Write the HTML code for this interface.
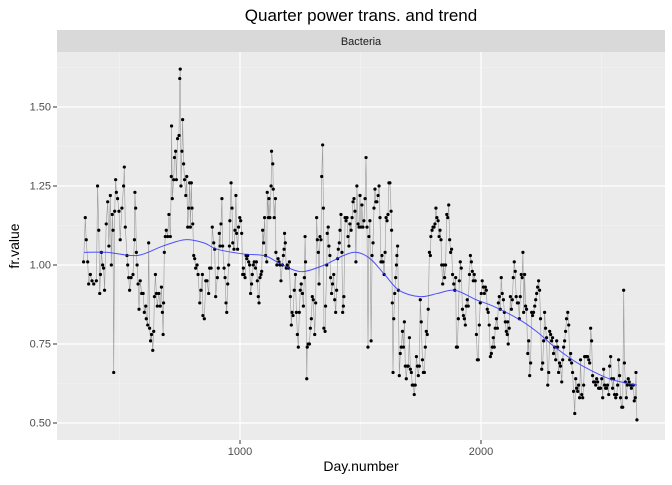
<!DOCTYPE html>
<html><head><meta charset="utf-8"><style>
body{margin:0;background:#fff;font-family:"Liberation Sans",sans-serif}
</style></head><body>
<svg id="chart" width="672" height="480" xmlns="http://www.w3.org/2000/svg" font-family="Liberation Sans, sans-serif">
<text x="361" y="21" font-size="17" text-anchor="middle" fill="#000">Quarter power trans. and trend</text>
<rect x="57" y="30" width="608" height="22" fill="#d9d9d9"/>
<text x="361" y="45" font-size="11" text-anchor="middle" fill="#1a1a1a">Bacteria</text>
<rect x="57" y="52" width="608" height="388" fill="#ebebeb"/>
<g id="grid"></g><g id="series"></g><g id="trend"></g><g id="axes"></g>
<text x="361" y="471" font-size="14" text-anchor="middle">Day.number</text>
<text transform="translate(19,246) rotate(-90)" font-size="14" text-anchor="middle">fr.value</text>
</svg>
<script>
const days = [351,358,362,368,372,379,386,393,404,409,414,418,421,425,430,434,438,445,451,456,462,466,470,473,476,480,484,487,492,498,503,510,517,520,524,531,534,538,542,548,556,562,564,567,570,573,577,581,586,592,598,603,609,611,617,621,625,629,633,638,642,645,649,653,657,663,669,674,678,681,683,686,690,694,700,705,711,715,716,719,725,728,733,736,741,747,750,752,755,759,762,766,770,775,779,783,787,791,794,798,801,804,808,812,816,822,826,833,838,844,846,852,858,863,870,874,880,885,891,895,899,
906,910,914,917,921,925,928,934,938,942,945,949,953,956,958,963,967,970,975,979,983,986,990,994,999,1003,1007,1011,1014,1017,1021,1025,1028,1032,1036,1040,1044,1048,1051,1055,1059,1064,1068,1072,1076,1079,1083,1087,1090,1094,1098,1102,1106,1111,1113,1118,1120,1124,1129,1131,1136,1138,1142,1147,1149,1153,1158,1162,1166,1170,1176,1180,1183,1185,1188,1192,1196,1201,1205,1209,1213,1216,1220,1225,1230,1234,1238,1242,1246,1250,1254,1259,1263,1267,1270,1272,1277,1279,1283,1288,1292,1296,1300,1304,1310,1314,1318,1321,1325,1328,1332,1336,1339,1343,1346,1348,1353,1355,1360,1362,1366,1369,1373,1376,1380,1384,1389,1393,1397,1401,1405,1408,1412,1415,1419,1423,1426,1429,1431,1436,1440,1444,1448,1452,1456,1461,1465,1469,1473,1477,1481,1485,1490,1494,1498,1502,1506,1510,1514,1519,1523,1527,1531,
1535,1539,1544,1548,1552,1556,1560,1564,1568,1573,1577,1581,1585,1589,1593,1598,1602,1606,1610,1614,1618,1622,1627,1629,1632,1635,1638,1642,1646,1649,1651,1654,1657,1661,1665,1669,1674,1678,1682,1686,1690,1694,1698,1703,1707,1711,1715,1719,1723,1727,1732,1736,1740,1744,1748,1752,1757,1761,1765,1769,1773,1777,1781,1786,1790,1792,1797,1801,1805,1809,1813,1817,1822,1826,1830,1834,1837,1841,1845,1849,1853,1858,1862,1866,1870,1874,1878,1882,1887,1891,1895,1898,1902,1906,1910,1914,1918,1923,1927,1931,1935,1939,1943,1947,1952,1956,1960,1964,1968,1972,1976,1981,1985,1989,1993,1997,2001,2005,2010,2014,2018,2022,2026,2030,2034,2039,2043,2047,2051,2055,2059,2064,2068,2072,2076,2080,2084,2088,2093,2097,2101,2105,2109,2111,
2113,2117,2122,2126,2130,2134,2138,2142,2146,2151,2155,2159,2163,2167,2171,2174,2177,2181,2185,2189,2194,2198,2202,2206,2210,2214,2218,2223,2227,2231,2235,2239,2243,2247,2252,2256,2260,2264,2268,2272,2277,2281,2285,2289,2293,2297,2301,2306,2310,2314,2318,2322,2326,2330,2335,2339,2343,2347,2351,2355,2360,2364,2368,2372,2376,2380,2384,2389,2393,2397,2401,2405,2409,2413,2418,2422,2426,2430,2434,2438,2442,2447,2451,2455,2459,2463,2467,2472,2476,2480,2484,2488,2492,2496,2501,2505,2509,2513,2517,2521,2525,2530,2534,2538,2542,2546,2550,2554,2559,2563,2567,2571,2575,2579,2584,2588,2592,2595,2599,2603,2607,2611,2615,2619,2624,2628,2632,2636,2640,2643,2647];
const values = [1.01,1.15,1.08,1.01,0.94,0.97,0.95,0.94,0.95,1.25,1.11,0.91,0.97,1.04,1.00,0.99,0.92,1.13,1.20,1.06,1.22,1.00,1.16,1.11,0.66,1.17,1.27,1.23,1.21,1.17,1.08,1.18,1.25,1.31,1.12,1.03,1.00,0.96,0.92,0.96,0.97,1.08,1.23,1.18,1.04,1.00,0.94,0.86,0.95,0.91,0.91,0.85,0.87,0.83,0.81,1.07,0.80,0.76,0.78,0.73,0.79,0.90,0.97,0.91,0.87,0.91,0.87,0.93,0.85,0.78,0.88,1.04,1.09,1.11,1.09,1.16,1.09,1.28,1.44,1.21,1.27,1.34,1.36,1.27,1.40,1.41,1.59,1.62,1.25,1.36,1.46,1.32,1.27,1.22,1.28,1.12,1.18,1.26,1.12,1.26,1.18,1.13,1.03,1.02,0.99,1.00,0.97,0.88,0.92,0.97,0.84,0.83,0.95,0.95,0.91,0.99,0.99,1.12,1.07,1.05,0.90,
0.96,0.99,1.10,1.06,1.13,1.21,1.06,0.99,0.96,0.88,0.85,0.94,1.00,1.06,1.14,1.26,1.18,1.07,1.05,1.11,1.22,1.10,1.05,1.12,1.15,1.14,1.10,0.97,0.99,0.97,0.96,1.03,1.02,1.03,1.01,1.00,0.91,0.94,0.97,1.00,1.01,0.99,1.01,0.95,0.90,0.88,0.96,0.97,0.98,1.11,1.07,1.15,1.03,1.01,1.23,1.15,1.21,1.15,1.25,1.36,1.32,1.24,1.15,1.21,1.04,1.00,1.02,1.01,1.00,0.95,1.00,1.03,1.05,1.10,1.07,0.99,1.00,0.99,1.01,0.90,0.81,0.85,0.84,0.92,0.97,0.85,0.78,0.74,0.85,0.92,0.94,0.91,0.87,0.96,1.09,1.01,0.64,0.74,0.75,0.75,0.80,0.83,0.90,0.89,0.78,0.88,1.15,1.08,1.04,0.94,1.09,1.08,1.28,1.38,1.18,0.80,0.79,0.87,1.00,1.10,1.12,1.06,1.03,0.96,0.91,0.94,0.97,0.89,0.85,0.92,1.02,1.05,1.07,1.11,1.16,1.04,0.85,0.87,0.90,1.15,1.14,1.15,1.09,1.06,1.13,1.11,1.15,1.20,1.21,1.17,1.01,1.25,1.13,1.12,1.22,1.12,1.19,1.12,1.14,1.21,1.34,1.12,0.74,
1.09,1.14,0.76,1.03,1.07,1.18,1.24,1.20,1.20,1.22,1.25,1.15,1.01,1.03,1.01,0.97,1.04,1.15,1.14,1.16,1.26,1.26,1.17,1.11,0.88,0.66,0.83,0.91,0.96,1.00,1.03,1.06,0.92,0.65,0.72,0.74,0.79,0.74,0.82,0.68,0.64,0.68,0.68,0.77,0.67,0.66,0.62,0.62,0.59,0.62,0.71,0.68,0.65,0.68,0.89,0.82,0.70,0.66,0.66,0.74,0.79,0.78,0.86,1.04,1.03,1.09,1.11,1.12,1.12,1.13,1.18,1.15,1.14,1.09,1.11,1.08,1.00,0.94,1.00,0.96,1.00,1.16,1.15,1.19,1.08,1.04,1.05,0.97,0.94,0.92,0.96,0.74,0.74,0.83,0.95,1.01,0.99,0.86,0.84,0.83,0.81,0.87,0.89,0.87,0.97,1.03,1.01,0.98,0.95,0.97,0.95,0.78,0.70,0.70,0.81,0.88,0.91,0.95,0.93,0.91,0.93,0.92,0.86,0.85,0.81,0.71,0.72,0.74,0.77,0.74,0.80,0.83,0.80,0.88,0.90,0.86,0.96,0.91,0.89,0.85,0.82,0.79,0.78,0.82,
0.75,0.80,0.90,0.86,0.89,0.96,1.01,0.98,0.90,0.88,0.88,0.83,0.90,0.97,0.96,1.04,0.85,0.97,0.87,0.86,0.72,0.76,0.65,0.69,0.85,0.84,0.85,0.87,0.89,0.91,0.93,0.95,0.92,0.83,0.67,0.69,0.76,0.85,0.80,0.77,0.62,0.66,0.79,0.78,0.76,0.77,0.72,0.74,0.70,0.76,0.74,0.66,0.69,0.68,0.63,0.70,0.74,0.76,0.79,0.83,0.85,0.81,0.70,0.72,0.69,0.66,0.60,0.53,0.64,0.61,0.60,0.62,0.58,0.70,0.59,0.58,0.62,0.71,0.71,0.71,0.71,0.70,0.69,0.80,0.76,0.65,0.63,0.63,0.62,0.64,0.63,0.61,0.61,0.61,0.64,0.58,0.67,0.62,0.61,0.61,0.62,0.59,0.68,0.71,0.64,0.61,0.64,0.59,0.58,0.59,0.62,0.70,0.65,0.58,0.55,0.55,0.92,0.69,0.63,0.58,0.62,0.64,0.63,0.62,0.61,0.62,0.62,0.57,0.58,0.66,0.51];
const trendDays = [353,450,573,680,772,850,905,1012,1100,1153,1220,1270,1350,1430,1485,1540,1600,1660,1747,1820,1892,1980,2050,2153,2230,2307,2400,2515,2580,2647];
const trendValues = [1.04,1.04,1.03,1.06,1.08,1.07,1.05,1.035,1.03,1.01,0.985,0.98,1.0,1.03,1.04,1.02,0.97,0.92,0.90,0.91,0.92,0.89,0.87,0.83,0.79,0.74,0.69,0.645,0.63,0.62];
const yTicks = [0.5,0.75,1.0,1.25,1.5];
const yTickLabels = ["0.50","0.75","1.00","1.25","1.50"];
const xTicks = [1000,2000];
const xTickLabels = ["1000","2000"];

const NS="http://www.w3.org/2000/svg";
const X = d => 240 + (d-1000)*0.241;
const Y = v => 265 - (v-1)*316;
function mk(tag, attrs, parent){const e=document.createElementNS(NS,tag);for(const k in attrs)e.setAttribute(k,attrs[k]);parent.appendChild(e);return e;}
const grid=document.getElementById('grid'), series=document.getElementById('series'), trend=document.getElementById('trend'), axes=document.getElementById('axes');
[0.625,0.875,1.125,1.375,1.625].forEach(v=>{const l=mk('line',{x1:57,x2:665,y1:Y(v),y2:Y(v),stroke:'#f4f4f4','stroke-width':0.6},grid);

});
[500,1500,2500].forEach(d=>{const l=mk('line',{x1:X(d),x2:X(d),y1:52,y2:440,stroke:'#f4f4f4','stroke-width':0.6},grid);

});
yTicks.forEach((v,i)=>{const l=mk('line',{x1:57,x2:665,y1:Y(v),y2:Y(v),stroke:'#fff','stroke-width':1.2},grid);


const t=mk('line',{x1:53,x2:57,y1:Y(v),y2:Y(v),stroke:'#333','stroke-width':1},axes);


const tx=mk('text',{x:51,y:Y(v)+3.5,'font-size':11,'text-anchor':'end',fill:'#4d4d4d'},axes);tx.textContent=yTickLabels[i];

});
xTicks.forEach((d,i)=>{const l=mk('line',{x1:X(d),x2:X(d),y1:52,y2:440,stroke:'#fff','stroke-width':1.2},grid);


const t=mk('line',{x1:X(d),x2:X(d),y1:440,y2:444,stroke:'#333','stroke-width':1},axes);


const tx=mk('text',{x:X(d),y:455,'font-size':11,'text-anchor':'middle',fill:'#4d4d4d'},axes);tx.textContent=xTickLabels[i];

});
const n=Math.min(days.length,values.length);
const pts=[];for(let i=0;i<n;i++)pts.push(X(days[i]).toFixed(1)+','+Y(values[i]).toFixed(1));
const path=mk('polyline',{points:pts.join(' '),fill:'none',stroke:'#999','stroke-width':0.6},series);


for(let i=0;i<n;i++){const c=mk('circle',{cx:X(days[i]),cy:Y(values[i]),r:1.6,fill:'#000'},series);

}
const tp=trendDays.map((d,i)=>[X(d),Y(trendValues[i])]);
let dstr='M'+tp[0][0]+','+tp[0][1];
for(let i=0;i<tp.length-1;i++){const p0=tp[Math.max(0,i-1)],p1=tp[i],p2=tp[i+1],p3=tp[Math.min(tp.length-1,i+2)];
const c1=[p1[0]+(p2[0]-p0[0])/6,p1[1]+(p2[1]-p0[1])/6],c2=[p2[0]-(p3[0]-p1[0])/6,p2[1]-(p3[1]-p1[1])/6];
dstr+=` C${c1[0]},${c1[1]} ${c2[0]},${c2[1]} ${p2[0]},${p2[1]}`;}
const tl=mk('path',{d:dstr,fill:'none',stroke:'#3333ff','stroke-width':1,opacity:0.85},trend);


</script>
</body></html>
